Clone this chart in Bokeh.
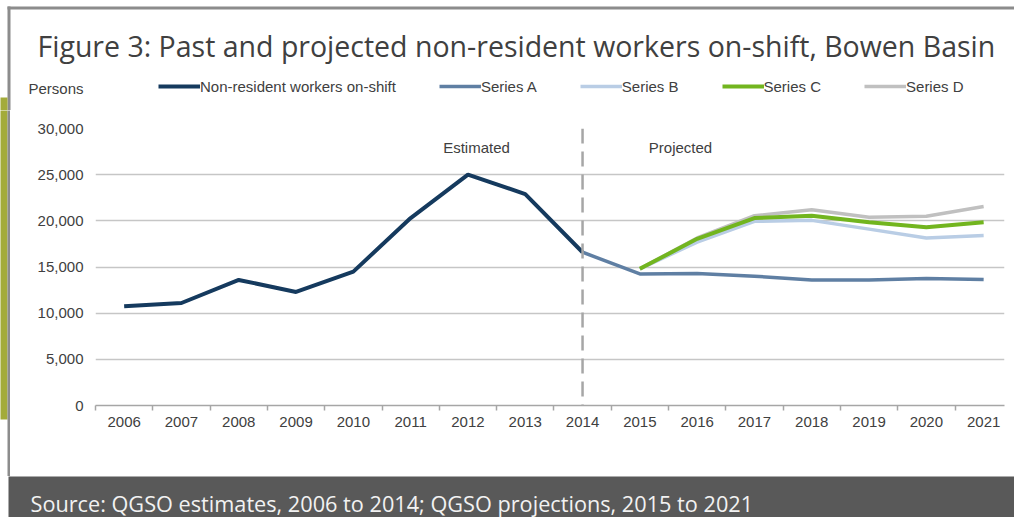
from bokeh.plotting import figure
from bokeh.layouts import column, row
from bokeh.models import (Range1d, FixedTicker, NumeralTickFormatter, Span, Label,
                          BoxAnnotation, Legend, LegendItem)
from bokeh.embed import file_html
from bokeh.resources import INLINE

# ---- data ----
est_years = [2006, 2007, 2008, 2009, 2010, 2011, 2012, 2013, 2014]
est_values = [10750, 11100, 13600, 12300, 14500, 20300, 25000, 22900, 16600]

a_years = [2014, 2015, 2016, 2017, 2018, 2019, 2020, 2021]
a_values = [16600, 14250, 14300, 14000, 13600, 13600, 13750, 13650]

proj_years = [2015, 2016, 2017, 2018, 2019, 2020, 2021]
b_values = [14800, 17700, 19950, 20050, 19100, 18150, 18400]
c_values = [14800, 18050, 20300, 20550, 19850, 19300, 19850]
d_values = [14800, 18150, 20550, 21200, 20400, 20500, 21550]

x_labels = list(range(2006, 2022))
y_ticks = [0, 5000, 10000, 15000, 20000, 25000, 30000]
split_year = 2014

series_names = ["Non-resident workers on-shift", "Series A", "Series B", "Series C", "Series D"]
series_colors = ["#153a5e", "#5f7fa3", "#b9cde5", "#72b51f", "#c0c0c0"]
series_widths = [4, 3.5, 3.5, 4, 3.5]

title_text = "Figure 3: Past and projected non-resident workers on-shift, Bowen Basin"
source_text = "Source: QGSO estimates, 2006 to 2014; QGSO projections, 2015 to 2021"

font = "Liberation Sans"
fsize = "15px"
tcol = "#404040"
border_col = "#8c8c8c"
olive = "#a3ab3a"
band_col = "#595959"

TOTAL_W = 1014
TOP_H, MID_H, FOOT_H = 110, 366, 41
STRIP_W = 10


def no_align(f):
    try:
        f.frame_align = False
    except Exception:
        pass


def blank(w, h, y0, y1, bg="white"):
    f = figure(width=w, height=h, x_range=Range1d(0, w), y_range=Range1d(y1, y0),
               output_backend="svg", toolbar_location=None, min_border=0,
               x_axis_location=None, y_axis_location=None)
    f.grid.visible = False
    f.outline_line_color = None
    f.background_fill_color = bg
    f.border_fill_color = bg
    no_align(f)
    return f


def box(f, l, r, t, b, color):
    f.add_layout(BoxAnnotation(left=l, right=r, top=t, bottom=b, fill_color=color,
                               fill_alpha=1, line_color=None))


# ---- top strip: border, title, "Persons", legend ----
top = blank(TOTAL_W, TOP_H, 0, TOP_H)
box(top, 7, TOTAL_W + 5, 6, 9, border_col)
box(top, 7, 10, 6, TOP_H + 5, border_col)
box(top, -5, 7, 97, TOP_H + 5, olive)
top.add_layout(Label(x=37, y=45, text=title_text, text_font="Open Sans",
                     text_font_size="28.5px", text_color=tcol, text_align="left",
                     text_baseline="alphabetic"))
top.add_layout(Label(x=28, y=88, text="Persons", text_font=font, text_font_size=fsize,
                     text_color=tcol, text_align="left", text_baseline="middle"))
leg_items = []
for name, col, lw in zip(series_names, series_colors, series_widths):
    # legend proxies, placed outside the visible range of this strip
    r = top.line([-50, -40], [-50, -40], line_color=col, line_width=lw)
    leg_items.append(LegendItem(label=name, renderers=[r]))
top.add_layout(Legend(items=leg_items, orientation="horizontal", location=(158, 14),
                      glyph_width=42, glyph_height=20, label_standoff=0, spacing=43,
                      padding=0, margin=0, border_line_color=None, background_fill_alpha=0,
                      label_text_font=font, label_text_font_size=fsize,
                      label_text_color=tcol))

# ---- left strip ----
strip = blank(STRIP_W, MID_H, TOP_H, TOP_H + MID_H)
box(strip, -5, 7, TOP_H - 5, 419, olive)
box(strip, 7, 10, TOP_H - 5, TOP_H + MID_H + 5, border_col)

# ---- main chart ----
FL, FT, FW, FH = 85, 18, 909, 277
MW = TOTAL_W - STRIP_W
p = figure(width=MW, height=MID_H, output_backend="svg", toolbar_location=None,
           x_range=Range1d(2005.5, 2005.5 + FW / 57.3), y_range=Range1d(0, 30000),
           min_border_left=FL, min_border_top=FT,
           min_border_right=MW - FL - FW, min_border_bottom=MID_H - FT - FH)
no_align(p)
p.background_fill_color = "white"
p.border_fill_color = "white"
p.outline_line_color = None

p.xaxis.ticker = FixedTicker(ticks=x_labels, minor_ticks=[y - 0.5 for y in x_labels])
p.xaxis.formatter = NumeralTickFormatter(format="0")
p.xaxis.axis_line_color = "#a6a6a6"
p.xaxis.axis_line_width = 1.5
p.xaxis.major_tick_line_color = None
p.xaxis.major_tick_out = 0
p.xaxis.major_tick_in = 0
p.xaxis.minor_tick_line_color = "#a6a6a6"
p.xaxis.minor_tick_line_width = 1.5
p.xaxis.minor_tick_out = 5
p.xaxis.minor_tick_in = 0
p.xaxis.major_label_standoff = 6
p.xaxis.major_label_text_font = font
p.xaxis.major_label_text_font_size = fsize
p.xaxis.major_label_text_color = tcol

p.yaxis.ticker = FixedTicker(ticks=y_ticks)
p.yaxis.formatter = NumeralTickFormatter(format="0,0")
p.yaxis.axis_line_color = None
p.yaxis.major_tick_line_color = None
p.yaxis.minor_tick_line_color = None
p.yaxis.major_tick_out = 0
p.yaxis.major_label_standoff = 12
p.yaxis.major_label_text_font = font
p.yaxis.major_label_text_font_size = fsize
p.yaxis.major_label_text_color = tcol

p.xgrid.visible = False
p.ygrid.grid_line_color = "#c6c6c6"
p.ygrid.grid_line_width = 1.5

p.add_layout(Span(location=split_year, dimension="height", line_color="#a6a6a6",
                  line_width=2.5, line_dash="15 8"))

# draw order: D, B, C, A, main
p.line(proj_years, d_values, line_color=series_colors[4], line_width=series_widths[4])
p.line(proj_years, b_values, line_color=series_colors[2], line_width=series_widths[2])
p.line(proj_years, c_values, line_color=series_colors[3], line_width=series_widths[3])
p.line(a_years, a_values, line_color=series_colors[1], line_width=series_widths[1])
p.line(est_years, est_values, line_color=series_colors[0], line_width=series_widths[0])

p.add_layout(Label(x=381, y=258, x_units="screen", y_units="screen", text="Estimated",
                   text_font=font, text_font_size=fsize, text_color=tcol,
                   text_align="center", text_baseline="middle"))
p.add_layout(Label(x=585, y=258, x_units="screen", y_units="screen", text="Projected",
                   text_font=font, text_font_size=fsize, text_color=tcol,
                   text_align="center", text_baseline="middle"))

# ---- footer ----
foot = blank(TOTAL_W, FOOT_H, TOP_H + MID_H, TOP_H + MID_H + FOOT_H)
box(foot, 8, TOTAL_W + 5, TOP_H + MID_H - 5, TOP_H + MID_H + FOOT_H + 5, band_col)
foot.add_layout(Label(x=30, y=503, text=source_text, text_font="Open Sans",
                      text_font_size="21.7px", text_color="#f2f2f2", text_align="left",
                      text_baseline="alphabetic"))

layout = column(top, row(strip, p), foot)
open("out.html", "w").write(file_html(layout, INLINE))
